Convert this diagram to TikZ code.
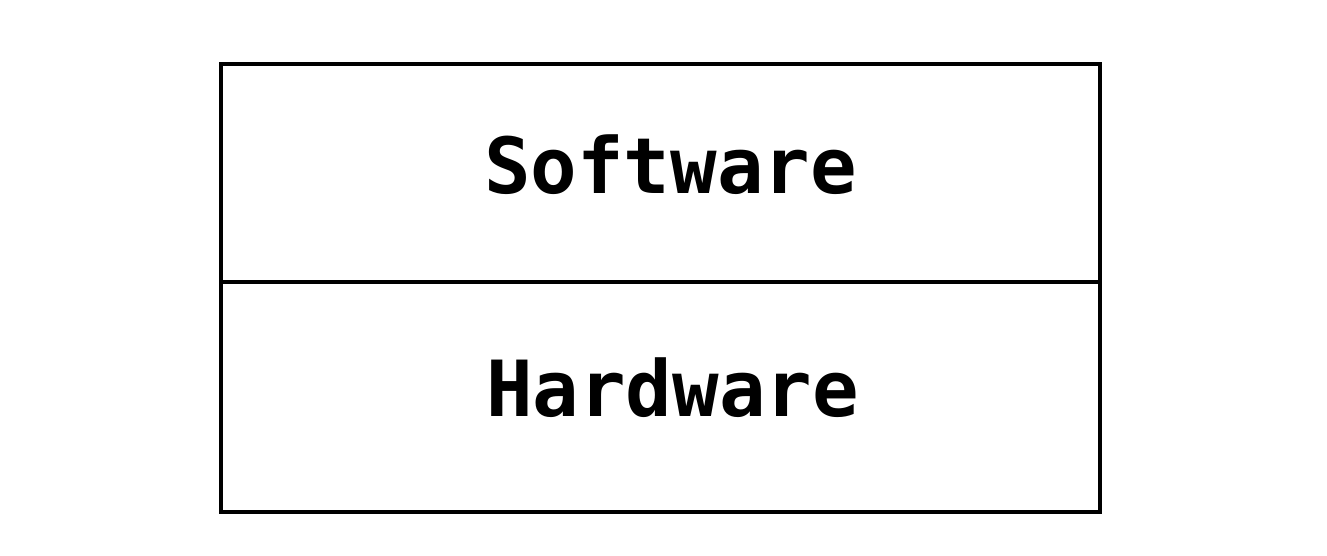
\documentclass[tikz,border=0pt]{standalone}
\usepackage{fontspec}
\setmonofont{DejaVu Sans Mono}
\usepackage{tikz}
\usetikzlibrary{positioning}

\tikzset{layer/.style={draw=black, line width=1.7pt, minimum width=439.5pt, inner sep=0pt},
    tag/.style={inner sep=0pt, font=\ttfamily\bfseries\fontsize{38.7}{40}\selectfont}}

\begin{document}
\begin{tikzpicture}[x=0.5pt, y=-0.5pt] % {{{
    \useasboundingbox (0,0) rectangle (1327,556);
    \begin{scope}[shift={(660.5,0)}] % Layers {{{
    \node[layer, minimum height=109pt] (soft) at (0,173) {};
    \node[layer, minimum height=115pt] (hard) at (0,397) {};
    \node[tag] (softtxt) at ([xshift=5pt, yshift=4pt]soft.center) {Software};
    \node[tag] (hardtxt) at ([xshift=6pt, yshift=4.5pt]hard.center) {Hardware};
    \end{scope} % }}}
\end{tikzpicture}
\end{document}
